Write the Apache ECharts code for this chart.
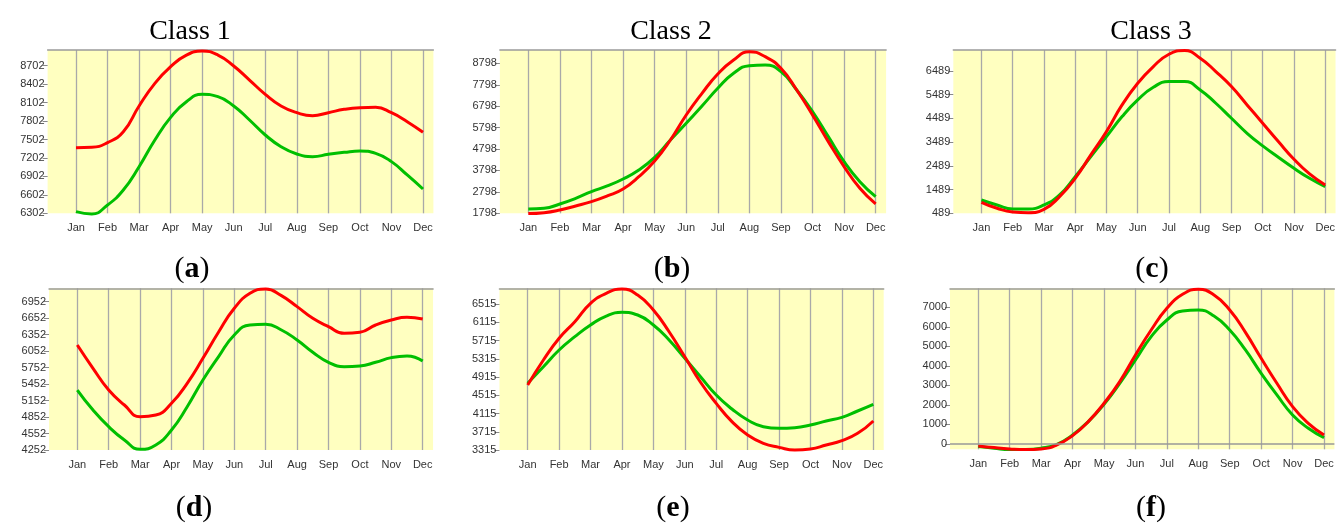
<!DOCTYPE html>
<html>
<head>
<meta charset="utf-8">
<script src="https://cdn.jsdelivr.net/npm/echarts@6/dist/echarts.min.js"></script>
<style>
html,body{margin:0;padding:0;background:#fff;}
#chart{width:1338px;height:523px;}
</style>
</head>
<body>
<div id="chart"></div>
<script>
// ---- data ----
const months = ['Jan','Feb','Mar','Apr','May','Jun','Jul','Aug','Sep','Oct','Nov','Dec'];
const monthTicks = [1,2,3,4,5,6,7,8,9,10,11,12];
const samplePos = [1,1.5,2,2.5,3,3.5,4,4.5,5,5.5,6,6.5,7,7.5,8,8.5,9,9.5,10,10.5,11,11.5,12];

const panelTitles = ['Class 1','Class 2','Class 3'];
const panelLetters = ['a','b','c','d','e','f'];

const ticksA = [6302,6602,6902,7202,7502,7802,8102,8402,8702];
const ticksB = [1798,2798,3798,4798,5798,6798,7798,8798];
const ticksC = [489,1489,2489,3489,4489,5489,6489];
const ticksD = [4252,4552,4852,5152,5452,5752,6052,6352,6652,6952];
const ticksE = [3315,3715,4115,4515,4915,5315,5715,6115,6515];
const ticksF = [0,1000,2000,3000,4000,5000,6000,7000];

const redA   = [7369,7375,7451,7629,8047,8415,8686,8875,8940,8875,8697,8469,8236,8047,7938,7889,7938,7992,8019,8025,7938,7792,7619];
const greenA = [6329,6291,6437,6681,7060,7494,7862,8117,8236,8198,8047,7819,7575,7385,7266,7223,7261,7293,7315,7277,7142,6925,6697];
const redB   = [1790,1829,1954,2140,2342,2607,2934,3509,4240,5220,6387,7398,8300,8954,9343,9109,8565,7554,6387,5143,3976,2965,2234];
const greenB = [2000,2031,2234,2498,2809,3074,3400,3820,4411,5220,5998,6807,7631,8331,8689,8720,8409,7554,6543,5376,4209,3276,2576];
const redC   = [953,700,545,517,658,1192,1964,2948,3932,5056,5969,6672,7192,7346,7023,6461,5829,5056,4283,3510,2765,2147,1683];
const greenC = [1051,840,672,672,840,1262,2035,2878,3721,4564,5267,5801,6040,6040,5688,5126,4494,3861,3328,2850,2386,1964,1613];
const redD   = [6163,5739,5344,5071,4858,4889,5102,5466,5921,6400,6831,7104,7183,7061,6861,6648,6497,6376,6394,6527,6618,6667,6636];
const greenD = [5344,4980,4676,4434,4264,4343,4616,5040,5526,5951,6345,6527,6539,6436,6254,6030,5848,5769,5781,5848,5933,5963,5872];
const redE   = [4740,5288,5764,6128,6531,6750,6844,6713,6384,5908,5360,4800,4338,3936,3644,3461,3373,3315,3337,3425,3520,3680,3951];
const greenE = [4777,5141,5507,5799,6055,6252,6333,6274,6055,5726,5325,4922,4520,4214,3973,3826,3790,3804,3863,3951,4031,4170,4316];
const redF   = [-102,-188,-256,-290,-256,-51,427,1144,2083,3193,4558,5839,6949,7666,7922,7632,6863,5719,4388,3107,1912,1059,461];
const greenF = [-137,-222,-290,-290,-222,-17,461,1144,2032,3107,4302,5497,6351,6812,6863,6556,5839,4815,3619,2510,1485,802,324];

const yRanges = [[6302,8957],[1798,9420],[489,7370],[4252,7195],[3315,6860],[-275,7975]];
const yTicks = [ticksA,ticksB,ticksC,ticksD,ticksE,ticksF];
const reds = [redA,redB,redC,redD,redE,redF];
const greens = [greenA,greenB,greenC,greenD,greenE,greenF];

// ---- layout ----
const xMin = 0.1, xMax = 12.33;
// [janPixel, spacing, top, height]
const layout = [
  [76, 31.545, 50, 163.3],
  [528.3, 31.58, 50, 163.3],
  [981.7, 31.545, 50, 163.3],
  [77.3, 31.4, 288.3, 161.7],
  [527.7, 31.42, 288.3, 161.7],
  [978.3, 31.43, 288.3, 161]
];

const FONT = '"Liberation Sans", Arial, sans-serif';
const SERIF = '"Liberation Serif", "Times New Roman", serif';

const grids = [], xAxes = [], yAxes = [], series = [];
layout.forEach((L, i) => {
  const [jan, s, top, h] = L;
  grids.push({
    left: jan - (1 - xMin) * s,
    width: (xMax - xMin) * s,
    top: top, height: h,
    show: true, backgroundColor: '#ffffc0', borderWidth: 0
  });
  xAxes.push({
    type: 'value', gridIndex: i, min: xMin, max: xMax, position: 'bottom',
    axisLine: {show: false},
    axisTick: {show: false, customValues: monthTicks},
    axisLabel: {
      customValues: monthTicks,
      formatter: v => months[Math.round(v) - 1],
      color: '#333', fontSize: 11, fontFamily: FONT, margin: 9
    },
    splitLine: {show: true, lineStyle: {color: '#a9a9a9', width: 1.3}}
  });
  xAxes.push({
    type: 'value', gridIndex: i, min: xMin, max: xMax, position: 'top',
    axisLine: {show: true, onZero: false, lineStyle: {color: '#9a9a9a', width: 1.5}},
    axisTick: {show: false}, axisLabel: {show: false}, splitLine: {show: false}
  });
  yAxes.push({
    type: 'value', gridIndex: i, min: yRanges[i][0], max: yRanges[i][1],
    axisLine: {show: false},
    axisTick: {show: true, length: 5, customValues: yTicks[i], lineStyle: {color: '#888'}},
    axisLabel: {customValues: yTicks[i], formatter: v => String(v),
      color: '#333', fontSize: 11, fontFamily: FONT, margin: 3},
    splitLine: {show: false}
  });
  const green = {
    type: 'line', xAxisIndex: i * 2, yAxisIndex: i, smooth: true, symbol: 'none', clip: false,
    lineStyle: {color: '#00bf00', width: 3}, itemStyle: {color: '#00bf00'},
    data: greens[i].map((v, k) => [samplePos[k], v])
  };
  if (i === 5) {
    green.markLine = {
      silent: true, symbol: 'none', label: {show: false},
      lineStyle: {color: '#999', type: 'solid', width: 1.5},
      data: [{yAxis: 0}]
    };
  }
  series.push(green);
  series.push({
    type: 'line', xAxisIndex: i * 2, yAxisIndex: i, smooth: true, symbol: 'none', clip: false,
    lineStyle: {color: '#ff0000', width: 3}, itemStyle: {color: '#ff0000'},
    data: reds[i].map((v, k) => [samplePos[k], v])
  });
});

const titleX = [190, 671, 1151];
const capX = [192, 672, 1152, 194, 673, 1151];
const capY = [269, 269, 269, 508, 508, 508];
const graphics = [];
panelTitles.forEach((t, i) => {
  graphics.push({type: 'text', x: titleX[i], y: 32,
    style: {text: t, font: '28px ' + SERIF, fill: '#000', align: 'center', verticalAlign: 'middle'}});
});
panelLetters.forEach((l, i) => {
  graphics.push({type: 'text', x: capX[i], y: capY[i],
    style: {
      text: '{p|(}{b|' + l + '}{p|)}', align: 'center', verticalAlign: 'middle',
      rich: {
        p: {fontFamily: SERIF, fontSize: 30, fill: '#000', color: '#000'},
        b: {fontFamily: SERIF, fontSize: 30, fontWeight: 'bold', fill: '#000', color: '#000'}
      }
    }});
});

const chart = echarts.init(document.getElementById('chart'), null, {renderer: 'canvas'});
chart.setOption({
  animation: false,
  backgroundColor: '#fff',
  grid: grids, xAxis: xAxes, yAxis: yAxes, series: series,
  graphic: graphics
});
</script>
</body>
</html>
